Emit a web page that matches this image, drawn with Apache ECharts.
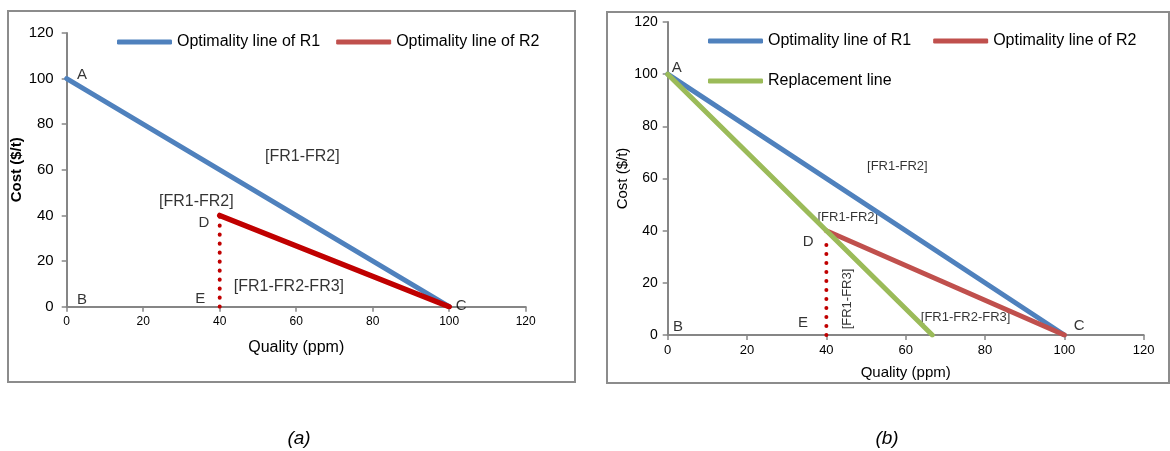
<!DOCTYPE html>
<html>
<head>
<meta charset="utf-8">
<script src="https://cdn.jsdelivr.net/npm/echarts@6/dist/echarts.min.js"></script>
<style>
html,body{margin:0;padding:0;background:#fff;}
#chart{width:1170px;height:451px;}
</style>
</head>
<body>
<div id="chart"></div>
<script>
// ---- data ----
const xTicks = [0, 20, 40, 60, 80, 100, 120];
const yTicks = [0, 20, 40, 60, 80, 100, 120];
const legendNames = ['Optimality line of R1', 'Optimality line of R2', 'Replacement line'];
// panel (a)
const r1LineA = [[0, 100], [100, 0]];
const r2LineA = [[40, 40], [100, 0]];
const dropLineA = [[40, 0], [40, 40]];
const letterLabelsA = [['A', 4.0, 101.6], ['B', 4.0, 2.9], ['C', 103.1, 0.3], ['D', 35.9, 36.7], ['E', 34.9, 3.4]];
const regionLabelsA = [['[FR1-FR2]', 61.6, 65.6], ['[FR1-FR2]', 33.9, 45.9], ['[FR1-FR2-FR3]', 58.1, 8.6]];
// panel (b)
const r1LineB = [[0, 100], [100, 0]];
const r2LineB = [[40, 40], [100, 0]];
const replLineB = [[0, 100], [66.7, 0]];
const dropLineB = [[40, 0], [40, 37.2]];
const letterLabelsB = [['A', 2.3, 102.4], ['B', 2.6, 3.1], ['C', 103.7, 3.5], ['D', 35.4, 35.7], ['E', 34.1, 4.6], ['F', 65.1, -4.6]];
const regionLabelsB = [['[FR1-FR2]', 57.9, 64.8], ['[FR1-FR2]', 45.4, 44.9], ['[FR1-FR2-FR3]', 75.1, 6.9]];
const rotatedLabelsB = [['[FR1-FR3]', 45.4, 13.8]];
const captions = ['(a)', '(b)'];

// ---- styling ----
const FONT = '"Liberation Sans", Arial, sans-serif';
const BLUE = '#4F81BD', RED = '#C0504D', DARKRED = '#C00000', GREEN = '#9BBB59';
const AXIS = '#868686';

function mkX(idx, labelSize, nameSize, nameGap) {
  return {
    type: 'value', gridIndex: idx, min: 0, max: 120, interval: 20,
    name: 'Quality (ppm)', nameLocation: 'middle', nameGap: nameGap,
    nameTextStyle: {fontFamily: FONT, fontSize: nameSize, color: '#000'},
    axisLine: {show: true, onZero: false, lineStyle: {color: AXIS, width: 2}},
    axisTick: {show: true, length: 5, lineStyle: {color: AXIS, width: 1.5}},
    axisLabel: {fontFamily: FONT, fontSize: labelSize, color: '#000', margin: 9},
    splitLine: {show: false}
  };
}
function mkY(idx, labelSize, nameStyle, nameGap, margin) {
  return {
    type: 'value', gridIndex: idx, min: 0, max: 120, interval: 20,
    name: 'Cost ($/t)', nameLocation: 'middle', nameGap: nameGap,
    nameTextStyle: Object.assign({fontFamily: FONT, color: '#000'}, nameStyle),
    axisLine: {show: true, onZero: false, lineStyle: {color: AXIS, width: 2}},
    axisTick: {show: true, length: 5, lineStyle: {color: AXIS, width: 1.5}},
    axisLabel: {fontFamily: FONT, fontSize: labelSize, color: '#000', margin: margin},
    splitLine: {show: false}
  };
}
function lineSeries(name, data, color, idx, width, legendColor) {
  return {
    type: 'line', name: name, xAxisIndex: idx, yAxisIndex: idx, data: data,
    showSymbol: false, symbol: 'none', silent: true, animation: false,
    lineStyle: {color: color, width: width, cap: 'round'},
    itemStyle: {color: legendColor || color}
  };
}
function dotSeries(data, idx) {
  return {
    type: 'line', xAxisIndex: idx, yAxisIndex: idx, data: data,
    showSymbol: false, symbol: 'none', silent: true, animation: false,
    lineStyle: {color: DARKRED, width: 4, cap: 'round', type: [0.1, 8.9]}
  };
}
function textSeries(list, idx, size, rotate) {
  return {
    type: 'scatter', xAxisIndex: idx, yAxisIndex: idx, symbolSize: 1,
    itemStyle: {color: 'rgba(0,0,0,0)'}, silent: true, animation: false,
    data: list.map(d => ({name: d[0], value: [d[1], d[2]]})),
    label: {show: true, position: 'inside', formatter: p => p.name, rotate: rotate || 0,
            fontFamily: FONT, fontSize: size, color: '#000', align: 'center', verticalAlign: 'middle'}
  };
}

const chart = echarts.init(document.getElementById('chart'), null, {renderer: 'canvas'});
const legendText = {fontFamily: FONT, fontSize: 16, color: '#000'};
const option = {
  backgroundColor: '#fff',
  animation: false,
  grid: [
    {left: 66.7, top: 33, width: 459, height: 273.7, containLabel: false},
    {left: 667.7, top: 22, width: 476, height: 313, containLabel: false}
  ],
  xAxis: [mkX(0, 12, 16, 33), mkX(1, 13, 15, 30)],
  yAxis: [mkY(0, 15, {fontSize: 15, fontWeight: 'bold'}, 31, 13), mkY(1, 14, {fontSize: 15}, 36, 10)],
  legend: [
    {left: 112, top: 29, itemWidth: 55, itemHeight: 5, itemGap: 16, icon: 'roundRect', selectedMode: false,
     textStyle: legendText,
     data: [{name: legendNames[0], itemStyle: {color: BLUE}}, {name: legendNames[1], itemStyle: {color: RED}}]},
    {left: 703, top: 28, itemWidth: 55, itemHeight: 5, itemGap: 22, icon: 'roundRect', selectedMode: false,
     textStyle: legendText,
     data: [{name: legendNames[0], itemStyle: {color: BLUE}}, {name: legendNames[1], itemStyle: {color: RED}}]},
    {left: 703, top: 68, itemWidth: 55, itemHeight: 5, icon: 'roundRect', selectedMode: false,
     textStyle: legendText,
     data: [{name: legendNames[2], itemStyle: {color: GREEN}}]}
  ],
  graphic: [
    {type: 'rect', shape: {x: 8, y: 11, width: 567, height: 371}, style: {fill: 'none', stroke: '#8c8c8c', lineWidth: 2}, silent: true},
    {type: 'rect', shape: {x: 607, y: 12, width: 562, height: 371}, style: {fill: 'none', stroke: '#8c8c8c', lineWidth: 2}, silent: true},
    {type: 'text', x: 299, y: 439, style: {text: captions[0], font: 'italic 19px ' + FONT, fill: '#000', textAlign: 'center', textVerticalAlign: 'middle'}, silent: true},
    {type: 'text', x: 887, y: 439, style: {text: captions[1], font: 'italic 19px ' + FONT, fill: '#000', textAlign: 'center', textVerticalAlign: 'middle'}, silent: true}
  ],
  series: [
    lineSeries(legendNames[0], r1LineA, BLUE, 0, 5),
    lineSeries(legendNames[1], r2LineA, DARKRED, 0, 5.5, RED),
    dotSeries(dropLineA, 0),
    textSeries(letterLabelsA, 0, 15),
    textSeries(regionLabelsA, 0, 16),
    lineSeries(legendNames[0], r1LineB, BLUE, 1, 5),
    lineSeries(legendNames[1], r2LineB, RED, 1, 5),
    lineSeries(legendNames[2], replLineB, GREEN, 1, 5),
    dotSeries(dropLineB, 1),
    textSeries(letterLabelsB, 1, 15),
    textSeries(regionLabelsB, 1, 13),
    textSeries(rotatedLabelsB, 1, 13, 90)
  ]
};
chart.setOption(option);
</script>
</body>
</html>
